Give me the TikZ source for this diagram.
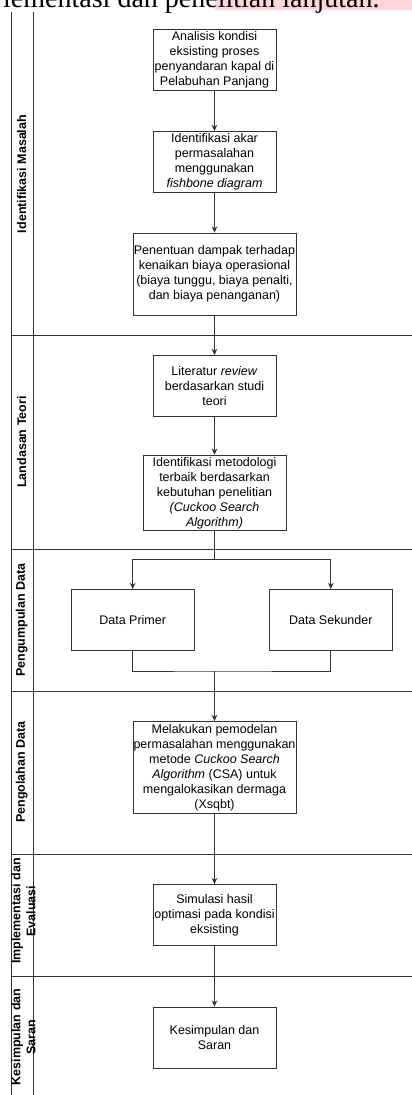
\documentclass[tikz,border=0pt]{standalone}
\usepackage{fontspec}
\setmainfont{Liberation Sans}
\newfontfamily\timesfont{Liberation Serif}
\usepackage{tikz}
\usetikzlibrary{positioning, arrows.meta}

\definecolor{garis}{HTML}{333333}
\definecolor{sorot}{HTML}{FFD6DC}

\begin{document}
\begin{tikzpicture}[
    x=1pt, y=-1pt,
    proses/.style={rectangle, draw=garis, line width=0.9pt, minimum width=123pt, minimum height=61pt, inner xsep=0pt, inner ysep=2pt, align=center, font=\fontsize{12.5}{15}\selectfont},
    lane/.style={rotate=90, align=center, inner sep=0pt, font=\fontsize{12.5}{15}\selectfont\bfseries},
    garislane/.style={draw=garis, line width=0.9pt},
    arrow/.style={-{Stealth[length=2.2mm, width=2mm]}, draw=garis, line width=0.9pt}
]
\useasboundingbox (0,0) rectangle (412,1095);

\fill[sorot] (215,0) rectangle (412,9.5);
\node[anchor=base west, inner sep=0pt, font=\timesfont\fontsize{28}{32}\selectfont] (judul) at (3,7) {lementasi dan penelitian lanjutan.};

\draw[garislane] (11,12) -- (11,1095);
\draw[garislane] (33,12) -- (33,1095);
\foreach \y in {335.5, 549, 691, 854, 976}
    \draw[garislane] (11,\y) -- (412,\y);

\node[lane] (l1) at (21.7,174) {Identifikasi Masalah};
\node[lane] (l2) at (21.7,442) {Landasan Teori};
\node[lane] (l3) at (21.7,620) {Pengumpulan Data};
\node[lane] (l4) at (21.7,772) {Pengolahan Data};
\node[lane] (l5) at (23.5,911) {Implementasi dan\\Evaluasi};
\node[lane] (l6) at (23.5,1037) {Kesimpulan dan\\Saran};

\node[proses] (analisis) at (214.5,60) {Analisis kondisi\\eksisting proses\\penyandaran kapal di\\Pelabuhan Panjang};
\node[proses] (akar) at (214.5,162) {Identifikasi akar\\permasalahan\\menggunakan\\\textit{fishbone diagram}};
\node[proses, minimum width=163pt, minimum height=82pt] (dampak) at (214.5,274) {Penentuan dampak terhadap\\kenaikan biaya operasional\\(biaya tunggu, biaya penalti,\\dan biaya penanganan)};
\node[proses] (literatur) at (214.5,386) {Literatur \textit{review}\\berdasarkan studi\\teori};
\node[proses, minimum width=143pt, minimum height=71pt] (metodologi) at (214.5,493) {Identifikasi metodologi\\terbaik berdasarkan\\kebutuhan penelitian\\\textit{(Cuckoo Search}\\\textit{Algorithm)}};
\node[proses] (primer) at (132.7,620) {Data Primer};
\node[proses] (sekunder) at (330.8,620) {Data Sekunder};
\node[proses, minimum width=163pt, minimum height=92pt] (pemodelan) at (214.5,767.5) {Melakukan pemodelan\\permasalahan menggunakan\\metode \textit{Cuckoo Search}\\\textit{Algorithm} (CSA) untuk\\mengalokasikan dermaga\\(Xsqbt)};
\node[proses] (simulasi) at (214.5,915) {Simulasi hasil\\optimasi pada kondisi\\eksisting};
\node[proses] (kesimpulan) at (214.5,1037.5) {Kesimpulan dan\\Saran};

\coordinate (cabang) at (214.5,559);
\coordinate (gabung) at (214.5,671);

\draw[arrow] (analisis) -- (akar);
\draw[arrow] (akar) -- (dampak);
\draw[arrow] (dampak) -- (literatur);
\draw[arrow] (literatur) -- (metodologi);
\draw[arrow] (metodologi.south) -- (cabang) -| (primer.north);
\draw[arrow] (cabang) -| (sekunder.north);
\draw[garislane] (primer.south) |- (gabung) -| (sekunder.south);
\draw[arrow] (gabung) -- (pemodelan);
\draw[arrow] (pemodelan) -- (simulasi);
\draw[arrow] (simulasi) -- (kesimpulan);

\end{tikzpicture}
\end{document}
